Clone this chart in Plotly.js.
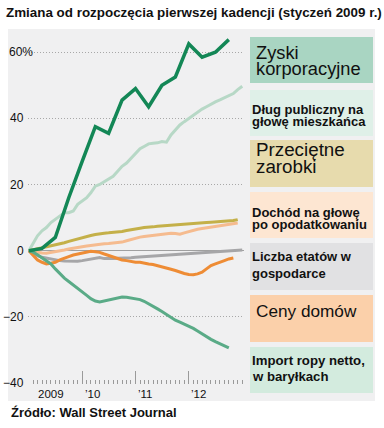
<!DOCTYPE html>
<html><head><meta charset="utf-8">
<script src="https://cdn.plot.ly/plotly-3.0.1.min.js"></script>
<style>html,body{margin:0;padding:0;background:#fff}#chart{width:384px;height:428px}</style>
</head><body><div id="chart"></div>
<script>
// ---- DATA ----
const monthDates = ['2009-01-01','2009-02-01','2009-03-01','2009-04-01','2009-05-01','2009-06-01','2009-07-01','2009-08-01','2009-09-01','2009-10-01','2009-11-01','2009-12-01',
'2010-01-01','2010-02-01','2010-03-01','2010-04-01','2010-05-01','2010-06-01','2010-07-01','2010-08-01','2010-09-01','2010-10-01','2010-11-01','2010-12-01',
'2011-01-01','2011-02-01','2011-03-01','2011-04-01','2011-05-01','2011-06-01','2011-07-01','2011-08-01','2011-09-01','2011-10-01','2011-11-01','2011-12-01',
'2012-01-01','2012-02-01','2012-03-01','2012-04-01','2012-05-01','2012-06-01','2012-07-01','2012-08-01','2012-09-01','2012-10-01','2012-11-01','2012-12-01',
'2013-01-01'];
const quarterDates = ['2009-01-01','2009-04-01','2009-07-01','2009-10-01','2010-01-01','2010-04-01','2010-07-01','2010-10-01',
'2011-01-01','2011-04-01','2011-07-01','2011-10-01','2012-01-01','2012-04-01','2012-07-01','2012-10-01'];

const corporateProfits = [0,0.7,4,16,27,37.5,35.5,45.5,49,43.5,50,52.5,62.5,58.5,60,63.8];
const debtPerCapita = [0,2.5,4.5,6,7,8.5,9.5,10.5,11.5,11.5,12,14,15,16,17.5,19.5,20,20.8,21.5,22.5,24,25.5,26.5,28,29.5,30.8,31.5,32.3,32.5,32.6,33,32.8,35,36.5,38,39,40,41,42,42.8,43.5,44.3,45,45.6,46.2,46.7,47.5,48.7,49.7];
const avgWages = [0,0.3,0.6,0.8,1.0,1.3,1.6,2.0,2.4,2.8,3.2,3.6,4.0,4.3,4.6,4.9,5.2,5.3,5.4,5.5,5.6,5.8,6.1,6.4,6.6,6.8,7.0,7.0,7.2,7.4,7.5,7.6,7.8,7.9,8.0,8.2,8.3,8.2,8.4,8.5,8.5,8.6,8.7,8.8,8.8,9.0,9.1,9.4];
const disposableIncome = [0,-0.3,-0.5,-0.7,-0.8,-0.6,-0.4,-0.1,0.2,0.5,0.8,1.0,1.2,1.4,1.6,1.8,2.0,2.1,2.2,2.3,2.4,2.6,3.0,3.4,3.8,4.1,4.3,4.5,4.6,4.8,5.0,5.2,5.3,5.2,5.0,5.4,5.8,6.2,6.5,6.7,6.9,7.1,7.3,7.5,7.6,7.8,8.0,8.4];
const jobs = [0,-0.8,-1.5,-2.0,-2.3,-2.6,-2.8,-3.0,-3.1,-3.2,-3.3,-3.2,-3.0,-2.8,-2.6,-2.3,-2.1,-2.4,-2.5,-2.4,-2.3,-2.3,-2.2,-2.1,-2.0,-1.9,-1.8,-1.7,-1.6,-1.5,-1.4,-1.3,-1.2,-1.1,-1.0,-0.9,-0.8,-0.7,-0.6,-0.6,-0.5,-0.4,-0.3,-0.2,-0.2,-0.1,0,0.1,0.2];
const housePrices = [0,-1.5,-2.8,-3.5,-4.0,-3.8,-3.5,-2.8,-2.2,-1.8,-1.3,-1.0,-0.8,-0.5,-0.2,-0.3,-0.5,-1.0,-1.5,-2.0,-2.5,-2.8,-3.0,-3.3,-3.5,-3.5,-3.8,-4.0,-4.2,-4.5,-4.8,-5.2,-5.6,-6.0,-6.5,-6.9,-7.2,-7.3,-7.0,-6.5,-5.5,-4.5,-4.0,-3.6,-3.0,-2.5,-2.2];
const oilImports = [0,-0.5,-1.2,-2.2,-3.0,-4.0,-5.5,-7.0,-8.3,-9.3,-10.3,-11.5,-12.5,-13.5,-14.5,-15.2,-15.5,-15.2,-14.9,-14.6,-14.2,-14.0,-14.1,-14.3,-14.5,-14.8,-15.3,-16.0,-16.8,-17.6,-18.4,-19.3,-20.2,-21.0,-21.6,-22.2,-22.8,-23.5,-24.3,-25.2,-26.0,-26.8,-27.5,-28.2,-28.8,-29.4];

const yTickVals = [60,40,20,0,-20,-40];
const yTickText = ['60%','40','20','0','\u221220','\u221240'];
const xMajorTicks = ['2010-01-01','2011-01-01','2012-01-01'];
const xLabelDates = ['2009-06-01','2010-03-15','2011-03-12','2012-03-10'];
const xLabelText = ['2009','\u201910','\u201911','\u201912'];

const legendLines = [
  ['Zyski','korporacyjne'],
  ['Dług publiczny na','głowę mieszkańca'],
  ['Przeciętne','zarobki'],
  ['Dochód na głowę','po opodatkowaniu'],
  ['Liczba etatów w','gospodarce'],
  ['Ceny domów'],
  ['Import ropy netto,','w baryłkach']
];
const titleText = 'Zmiana od rozpoczęcia pierwszej kadencji (styczeń 2009 r.)';
const sourceText = 'Źródło: Wall Street Journal';

// ---- STYLE / LAYOUT ----
const FONT = 'Liberation Sans, Arial, sans-serif';
const lineColors = {corp:'#138756', debt:'#b7d8c6', wages:'#c4b049', income:'#f5bb8f', jobs:'#a6a6a8', house:'#ee8c35', oil:'#5aab87'};
const boxColors = ['#a9d5c2','#dff0e8','#e7dbad','#fde6d2','#e1e1e3','#fbd0aa','#d3ebde'];
const boxFontSize = [18.3,13,18.8,13,13,17.2,13.2];
const boxBold = [false,true,false,true,true,false,true];
const boxTop = [37,90,140,192,243,295,347];
const boxBottom = [83,136,187,238,290,342,393];
const lineCenters = [[52,68],[109.5,122],[149,166],[212.5,224.5],[256.5,273.5],[311],[360,376.5]];

const PL=28, PR=244, PT=35, PB=384;
const pxp = v => (v-PL)/(PR-PL);
const pyp = v => (PB-v)/(PB-PT);

function tr(x,y,color,w){return {x:x,y:y,type:'scatter',mode:'lines',line:{color:color,width:w,shape:'linear'},hoverinfo:'skip',showlegend:false};}
const data = [
  tr(monthDates.slice(0,debtPerCapita.length),debtPerCapita,lineColors.debt,3),
  tr(monthDates.slice(0,jobs.length),jobs,lineColors.jobs,3),
  tr(monthDates.slice(0,disposableIncome.length),disposableIncome,lineColors.income,3),
  tr(monthDates.slice(0,avgWages.length),avgWages,lineColors.wages,3),
  tr(monthDates.slice(0,housePrices.length),housePrices,lineColors.house,3),
  tr(monthDates.slice(0,oilImports.length),oilImports,lineColors.oil,3),
  tr(quarterDates,corporateProfits,lineColors.corp,3.5)
];

const shapes = [{type:'rect',xref:'paper',yref:'paper',x0:pxp(8),x1:pxp(375),y0:pyp(401),y1:pyp(29),fillcolor:'#f0f0f1',line:{width:0},layer:'below'}];
const annotations = [];
legendLines.forEach((lines,i)=>{
  shapes.push({type:'rect',xref:'paper',yref:'paper',x0:pxp(250),x1:pxp(373),y0:pyp(boxBottom[i]),y1:pyp(boxTop[i]),fillcolor:boxColors[i],line:{width:0},layer:'below'});
  lines.forEach((t,j)=>{
    annotations.push({xref:'paper',yref:'paper',x:pxp(boxBold[i]?251:255),y:pyp(lineCenters[i][j]),xanchor:'left',yanchor:'middle',showarrow:false,borderpad:0,
      text:boxBold[i]?'<b>'+t+'</b>':t,font:{family:FONT,size:boxFontSize[i],color:'#111'}});
  });
});
yTickVals.forEach((v,i)=>{
  const pct = yTickText[i].endsWith('%');
  annotations.push({xref:'paper',yref:'y',x:pxp(26),y:v,xanchor:'right',yanchor:'middle',xshift:pct?9:0,showarrow:false,
    text:yTickText[i],font:{family:FONT,size:12,color:'#111'}});
});
xLabelDates.forEach((d,i)=>{
  annotations.push({xref:'x',yref:'paper',x:d,y:pyp(394),xanchor:'center',yanchor:'middle',showarrow:false,
    text:xLabelText[i],font:{family:FONT,size:11.5,color:'#111'}});
});
annotations.push({xref:'paper',yref:'paper',x:pxp(9),y:pyp(412),xanchor:'left',yanchor:'middle',showarrow:false,
  text:'<b>'+sourceText+'</b>',font:{family:FONT,size:13,color:'#111'}});

const layout = {
  width:384,height:428,
  margin:{l:PL,r:384-PR,t:PT,b:428-PB,pad:0},
  paper_bgcolor:'#ffffff',plot_bgcolor:'rgba(0,0,0,0)',
  title:{text:'<b>'+titleText+'</b>',xref:'container',yref:'container',x:6/384,xanchor:'left',y:1-12/428,yanchor:'middle',
    font:{family:FONT,size:13.4,color:'#111'}},
  xaxis:{type:'date',range:['2008-12-26','2013-01-13'],tickmode:'array',tickvals:xMajorTicks,showticklabels:false,
    ticks:'inside',ticklen:13,tickwidth:1,tickcolor:'#9a9a9a',showgrid:false,zeroline:false,showline:false,fixedrange:true,
    minor:{ticks:'inside',ticklen:4,tickwidth:1,tickcolor:'#9a9a9a',dtick:'M1',tick0:'2009-01-01',showgrid:false}},
  yaxis:{range:[-40.3,65.2],tickmode:'array',tickvals:yTickVals,showticklabels:false,ticks:'',
    showgrid:true,gridcolor:'#a8a8a8',gridwidth:1,griddash:'1px,2px',
    zeroline:true,zerolinecolor:'#a0a0a0',zerolinewidth:1.5,showline:false,fixedrange:true},
  shapes:shapes,annotations:annotations,showlegend:false
};
Plotly.newPlot('chart',data,layout,{displayModeBar:false,staticPlot:true});
</script></body></html>
